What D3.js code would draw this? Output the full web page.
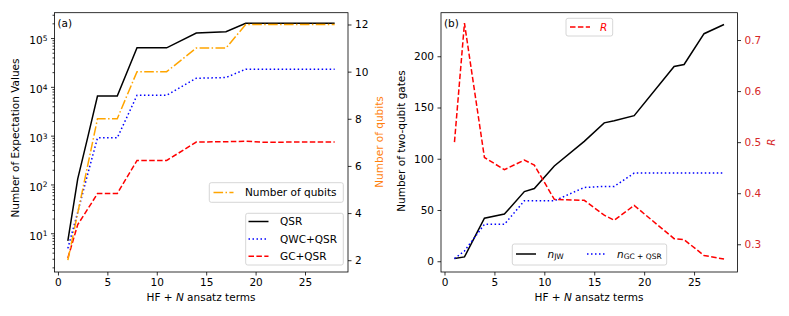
<!DOCTYPE html>
<html>
<head>
<meta charset="utf-8">
<script src="https://cdn.jsdelivr.net/npm/d3@7"></script>
<style>
  body { margin: 0; background: #fff; }
  svg { display: block; font-family: "DejaVu Sans", sans-serif; }
  .axis path, .axis line { stroke: #000; stroke-width: 0.8; }
  .axis text { font-size: 10.5px; fill: #000; font-family: "DejaVu Sans", sans-serif; }
</style>
</head>
<body>
<div id="chart"></div>
<script>
// panel (a) data
var termsA = [1, 2, 3, 4, 6, 8, 11, 14, 17, 19, 21, 24, 28];
var qsr    = [7, 130, 900, 6500, 6500, 63000, 63000, 127000, 135000, 200000, 200000, 200000, 200000];
var qwcQsr = [4.9, 27, 160, 900, 900, 6700, 6700, 15000, 15500, 23000, 23000, 23000, 23000];
var gcQsr  = [3.1, 15, 31, 65, 65, 310, 310, 740, 750, 770, 730, 740, 740];
var qubits = [2, 4, 6, 8, 8, 10, 10, 11, 11, 12, 12, 12, 12];

// panel (b) data
var termsB = [1, 2, 4, 6, 8, 9, 11, 14, 16, 17, 19, 23, 24, 26, 28];
var nJW    = [2.6, 4.2, 42, 46, 68, 71, 93, 117, 135, 137, 142, 190, 192, 222, 231];
var nGC    = [2.6, 10, 36, 36, 59, 59, 59, 72, 73, 73, 86, 86, 86, 86, 86];
var ratioR = [0.5, 0.733, 0.47, 0.446, 0.465, 0.455, 0.388, 0.386, 0.357, 0.347, 0.376, 0.311, 0.309, 0.278, 0.271];

var xTicks = [0, 5, 10, 15, 20, 25];
var logTicks = [10, 100, 1000, 10000, 100000];
var qubitTicks = [2, 4, 6, 8, 10, 12];
var gateTicks = [0, 50, 100, 150, 200];
var rTicks = [0.3, 0.4, 0.5, 0.6, 0.7];

var width = 789, height = 316;
var top_ = 12.7, bottom = 272;
var fs = "10.5px";

var svg = d3.select("#chart").append("svg")
  .attr("width", width)
  .attr("height", height);

function pts(xs, ys) { return xs.map(function(d, i) { return [d, ys[i]]; }); }

function drawLine(g, data, x, y, color, dash) {
  g.append("path")
    .datum(data)
    .attr("fill", "none")
    .attr("stroke", color)
    .attr("stroke-width", 1.5)
    .attr("stroke-dasharray", dash)
    .attr("d", d3.line().x(function(d) { return x(d[0]); }).y(function(d) { return y(d[1]); }));
}

function frame(x0, x1) {
  svg.append("rect")
    .attr("x", x0).attr("y", top_)
    .attr("width", x1 - x0).attr("height", bottom - top_)
    .attr("fill", "none").attr("stroke", "#000").attr("stroke-width", 0.8);
}

function legendBox(x, y, w, h) {
  svg.append("rect")
    .attr("x", x).attr("y", y).attr("width", w).attr("height", h)
    .attr("rx", 2)
    .attr("fill", "#fff").attr("fill-opacity", 0.8)
    .attr("stroke", "#ccc").attr("stroke-width", 0.8);
}

function legendLine(x, y, color, dash) {
  svg.append("line")
    .attr("x1", x).attr("x2", x + 20).attr("y1", y).attr("y2", y)
    .attr("stroke", color).attr("stroke-width", 1.5)
    .attr("stroke-dasharray", dash);
}

function label(x, y, txt, color, rot) {
  var t = svg.append("text")
    .attr("transform", "translate(" + x + "," + y + ")" + (rot ? " rotate(" + rot + ")" : ""))
    .attr("text-anchor", "middle")
    .style("font-size", fs)
    .style("fill", color || "#000")
    .text(txt);
  return t;
}

// ---------- panel (a) ----------
var xA = d3.scaleLinear().domain([-0.35, 29.35]).range([54.5, 348]);
var yA = d3.scaleLog().domain([Math.pow(10, 0.206), Math.pow(10, 5.519)]).range([bottom, top_]);
var yQ = d3.scaleLinear().domain([1.5, 12.5]).range([bottom, top_]);

var gA = svg.append("g");
drawLine(gA, pts(termsA, qsr), xA, yA, "#000", null);
drawLine(gA, pts(termsA, qwcQsr), xA, yA, "#0000ff", "1.5,2.5");
drawLine(gA, pts(termsA, gcQsr), xA, yA, "#ff0000", "5.5,2.4");
drawLine(gA, pts(termsA, qubits), xA, yQ, "#ffa500", "9.6,2.4,1.5,2.4");

frame(54.5, 348);

svg.append("g").attr("class", "axis")
  .attr("transform", "translate(0," + bottom + ")")
  .call(d3.axisBottom(xA).tickValues(xTicks).tickSize(3.5).tickPadding(3.5).tickFormat(d3.format("d")))
  .call(function(g) { g.select(".domain").remove(); });

// minor log ticks
var minorA = [];
[1, 10, 100, 1000, 10000, 100000].forEach(function(p) {
  for (var k = 2; k <= 9; k++) {
    var v = k * p;
    if (v >= yA.domain()[0] && v <= yA.domain()[1]) minorA.push(v);
  }
});
svg.append("g").attr("class", "axis")
  .attr("transform", "translate(54.5,0)")
  .call(d3.axisLeft(yA).tickValues(minorA).tickSize(2).tickFormat(""))
  .call(function(g) { g.select(".domain").remove(); });

var yAxisA = svg.append("g").attr("class", "axis")
  .attr("transform", "translate(54.5,0)")
  .call(d3.axisLeft(yA).tickValues(logTicks).tickSize(3.5).tickPadding(3.5).tickFormat(""))
  .call(function(g) { g.select(".domain").remove(); });
yAxisA.selectAll(".tick text").each(function(d) {
  var t = d3.select(this);
  t.text("10");
  t.append("tspan").attr("dy", "-0.45em").style("font-size", "7.5px").text(Math.round(Math.log10(d)));
  t.attr("dy", "0.55em");
});

svg.append("g").attr("class", "axis")
  .attr("transform", "translate(348,0)")
  .call(d3.axisRight(yQ).tickValues(qubitTicks).tickSize(3.5).tickPadding(3.5))
  .call(function(g) { g.select(".domain").remove(); });

label(19, 138, "Number of Expectation Values", "#000", -90);
label(383, 142, "Number of qubits", "#ff7f0e", -90);
label(201, 300.5, "").call(function(t) {
  t.append("tspan").text("HF + ");
  t.append("tspan").style("font-style", "italic").text("N");
  t.append("tspan").text(" ansatz terms");
});
svg.append("text").attr("x", 57.5).attr("y", 26.5).style("font-size", fs).text("(a)");

// legends (a)
legendBox(209.3, 182.7, 134, 19.6);
legendLine(213.5, 192.5, "#ffa500", "9.6,2.4,1.5,2.4");
svg.append("text").attr("x", 245).attr("y", 196.3).style("font-size", fs).text("Number of qubits");

legendBox(245.7, 213.3, 97.6, 51.7);
var legA = [
  { name: "QSR", color: "#000", dash: null },
  { name: "QWC+QSR", color: "#0000ff", dash: "1.5,2.5" },
  { name: "GC+QSR", color: "#ff0000", dash: "5.5,2.4" }
];
legA.forEach(function(d, i) {
  var yy = 221.5 + i * 17.4;
  legendLine(248.5, yy, d.color, d.dash);
  svg.append("text").attr("x", 280).attr("y", yy + 3.8).style("font-size", fs).text(d.name);
});

// ---------- panel (b) ----------
var xB = d3.scaleLinear().domain([-0.35, 29.35]).range([441, 737.5]);
var yB = d3.scaleLinear().domain([-10.5, 242.5]).range([bottom, top_]);
var yR = d3.scaleLinear().domain([0.2457, 0.7535]).range([bottom, top_]);

var gB = svg.append("g");
drawLine(gB, pts(termsB, nJW), xB, yB, "#000", null);
drawLine(gB, pts(termsB, nGC), xB, yB, "#0000ff", "1.5,2.5");
drawLine(gB, pts(termsB, ratioR), xB, yR, "#ff0000", "5.5,2.4");

frame(441, 737.5);

svg.append("g").attr("class", "axis")
  .attr("transform", "translate(0," + bottom + ")")
  .call(d3.axisBottom(xB).tickValues(xTicks).tickSize(3.5).tickPadding(3.5).tickFormat(d3.format("d")))
  .call(function(g) { g.select(".domain").remove(); });

svg.append("g").attr("class", "axis")
  .attr("transform", "translate(441,0)")
  .call(d3.axisLeft(yB).tickValues(gateTicks).tickSize(3.5).tickPadding(3.5))
  .call(function(g) { g.select(".domain").remove(); });

svg.append("g").attr("class", "axis")
  .attr("transform", "translate(737.5,0)")
  .call(d3.axisRight(yR).tickValues(rTicks).tickSize(3.5).tickPadding(3.5).tickFormat(d3.format(".1f")))
  .call(function(g) {
    g.select(".domain").remove();
    g.selectAll("text").style("fill", "#d62728");
  });

label(405, 141, "Number of two-qubit gates", "#000", -90);
label(775, 142, "R", "#d62728", -90).style("font-style", "italic");
label(589, 300.5, "").call(function(t) {
  t.append("tspan").text("HF + ");
  t.append("tspan").style("font-style", "italic").text("N");
  t.append("tspan").text(" ansatz terms");
});
svg.append("text").attr("x", 444).attr("y", 26.5).style("font-size", fs).text("(b)");

// legends (b)
legendBox(566, 18.3, 46.7, 17.7);
legendLine(570, 27, "#ff0000", "5.5,2.4");
svg.append("text").attr("x", 600).attr("y", 30.8).style("font-size", fs)
  .style("font-style", "italic").style("fill", "#ff0000").text("R");

legendBox(512.3, 244, 154.4, 21);
legendLine(516, 254, "#000", null);
var tj = svg.append("text").attr("x", 547.5).attr("y", 257.5).style("font-size", fs);
tj.append("tspan").style("font-style", "italic").text("n");
tj.append("tspan").attr("dy", "1.5").style("font-size", "7.5px").text("JW");
legendLine(587, 254, "#0000ff", "1.5,2.5");
var tg = svg.append("text").attr("x", 617).attr("y", 257.5).style("font-size", fs);
tg.append("tspan").style("font-style", "italic").text("n");
tg.append("tspan").attr("dy", "1.5").style("font-size", "7.5px").text("GC + QSR");
</script>
</body>
</html>
